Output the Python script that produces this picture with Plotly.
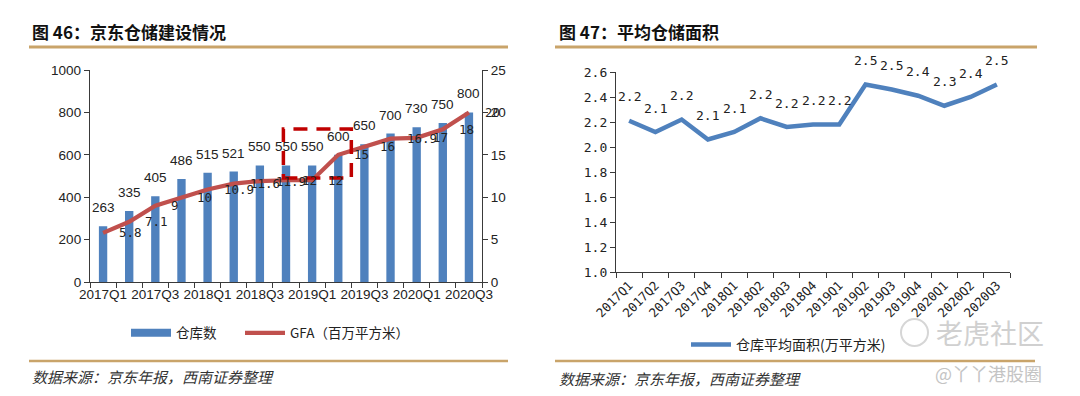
import plotly.graph_objects as go

# ---------------- data ----------------
categories = ["2017Q1", "2017Q2", "2017Q3", "2017Q4", "2018Q1", "2018Q2", "2018Q3",
              "2018Q4", "2019Q1", "2019Q2", "2019Q3", "2019Q4", "2020Q1", "2020Q2", "2020Q3"]
warehouses = [263, 335, 405, 486, 515, 521, 550, 550, 550, 600, 650, 700, 730, 750, 800]
gfa = [5.8, 7.1, 9, 10, 10.9, 11.6, 11.9, 12, 12, 15, 16, 16.9, 17, 18, 20]
avg_area = [2.21, 2.12, 2.22, 2.06, 2.12, 2.23, 2.16, 2.18, 2.18, 2.50, 2.46, 2.41, 2.33, 2.40, 2.50]

left_title = "图 46：京东仓储建设情况"
right_title = "图 47：平均仓储面积"
source_text = "数据来源：京东年报，西南证券整理"
name_bar = "仓库数"
name_gfa = "GFA（百万平方米）"
name_avg = "仓库平均面积(万平方米)"

idx = list(range(len(categories)))

# ---------------- styles ----------------
W, H = 1080, 396
BLUE = "#4F81BD"
RED = "#C0504D"
GOLD = "#C9A46A"
AX = "#3a3a3a"
TXT = "#222222"
CJK = "Noto Sans CJK SC"
SANS = "Liberation Sans"
MONO = "DejaVu Sans Mono"


def px_x(p):
    return p / W


def px_y(p):
    return 1 - p / H


fig = go.Figure()

# bars
fig.add_trace(go.Bar(x=idx, y=warehouses, marker_color=BLUE, width=0.32,
                     showlegend=False, xaxis="x", yaxis="y", hoverinfo="y"))
# legend stand-in for the bars (wide bar-coloured swatch)
fig.add_trace(go.Scatter(x=[None], y=[None], mode="lines", name=name_bar,
                         line=dict(color=BLUE, width=8), xaxis="x", yaxis="y",
                         legend="legend"))
# GFA line
fig.add_trace(go.Scatter(x=idx, y=gfa, mode="lines", name=name_gfa,
                         line=dict(color=RED, width=4.2), xaxis="x", yaxis="y2",
                         legend="legend3"))
# average area line
fig.add_trace(go.Scatter(x=idx, y=avg_area, mode="lines", name=name_avg,
                         line=dict(color=BLUE, width=4.5), xaxis="x2", yaxis="y3",
                         legend="legend2"))

annotations = []
# bar labels
for i, v in zip(idx, warehouses):
    annotations.append(dict(x=i, y=v, xref="x", yref="y", text=str(v), showarrow=False,
                            xanchor="center", yanchor="bottom", yshift=9,
                            font=dict(family=SANS, size=13.5, color=TXT)))
# GFA labels (to the right of the points)
for i, v in zip(idx, gfa):
    annotations.append(dict(x=i, y=v, xref="x", yref="y2", text=f"{v:g}", showarrow=False,
                            xanchor="left", yanchor="middle", xshift=14,
                            font=dict(family=MONO, size=12.5, color=TXT)))
# average area labels
for i, v in zip(idx, avg_area):
    annotations.append(dict(x=i, y=v, xref="x2", yref="y3", text=f"{v:.1f}", showarrow=False,
                            xanchor="center", yanchor="middle", yshift=24,
                            font=dict(family=MONO, size=13, color=TXT)))

# titles and sources
for txt, xp in [(left_title, 30), (right_title, 557)]:
    annotations.append(dict(x=px_x(xp), y=px_y(31), xref="paper", yref="paper", text=f"<b>{txt}</b>",
                            showarrow=False, xanchor="left", yanchor="middle",
                            font=dict(family=CJK, size=17, color="#111111")))
for xp, yp in [(30, 376), (557, 378)]:
    annotations.append(dict(x=px_x(xp), y=px_y(yp), xref="paper", yref="paper", text=source_text,
                            showarrow=False, xanchor="left", yanchor="middle",
                            font=dict(family=CJK, size=15, color="#333333", style="italic")))
# watermarks
annotations.append(dict(x=px_x(990), y=px_y(332), xref="paper", yref="paper", text="老虎社区",
                        showarrow=False, xanchor="center", yanchor="middle",
                        font=dict(family=CJK, size=27, color="#d0d0d0")))
annotations.append(dict(x=px_x(988), y=px_y(373), xref="paper", yref="paper", text="@丫丫港股圈",
                        showarrow=False, xanchor="center", yanchor="middle",
                        font=dict(family=CJK, size=18, color="#c4c4c4")))

shapes = [
    dict(type="line", xref="paper", yref="paper", x0=px_x(29), x1=px_x(508), y0=px_y(47), y1=px_y(47),
         line=dict(color=GOLD, width=3)),
    dict(type="line", xref="paper", yref="paper", x0=px_x(555), x1=px_x(1037), y0=px_y(47), y1=px_y(47),
         line=dict(color=GOLD, width=3)),
    dict(type="line", xref="paper", yref="paper", x0=px_x(29), x1=px_x(508), y0=px_y(361), y1=px_y(361),
         line=dict(color=GOLD, width=2.5)),
    dict(type="line", xref="paper", yref="paper", x0=px_x(555), x1=px_x(1035), y0=px_y(361), y1=px_y(361),
         line=dict(color=GOLD, width=2.5)),
    # watermark logo ring
    dict(type="circle", xref="paper", yref="paper", x0=px_x(901), x1=px_x(928), y0=px_y(346), y1=px_y(319),
         line=dict(color="#d6d6d6", width=2)),
    # highlight rectangle around 2018Q4-2019Q2
    dict(type="rect", xref="x", yref="y", x0=6.9, x1=9.5, y0=490, y1=722, layer="above",
         line=dict(color="#C00000", width=3.5, dash="14px,9px")),
]

axis_common = dict(showgrid=False, zeroline=False, showline=True, linecolor=AX, linewidth=1.3,
                   tickcolor=AX, fixedrange=True, automargin=False)

legend_common = dict(orientation="h", xanchor="left", yanchor="middle", itemwidth=40,
                     bgcolor="rgba(0,0,0,0)", borderwidth=0, itemclick=False, itemdoubleclick=False)

fig.update_layout(
    template="none",
    width=W, height=H, autosize=False,
    margin=dict(l=0, r=0, t=0, b=0, pad=0, autoexpand=False),
    paper_bgcolor="white", plot_bgcolor="white",
    bargap=0.68,
    xaxis=dict(domain=[px_x(90), px_x(482)], range=[-0.5, len(categories) - 0.5], anchor="y",
               tickvals=idx[::2], ticktext=categories[::2], ticks="",
               minor=dict(tick0=-0.5, dtick=1, ticks="outside", ticklen=5, tickcolor=AX),
               tickfont=dict(family=SANS, size=13.5, color=TXT), **axis_common),
    yaxis=dict(domain=[px_y(282), px_y(70)], range=[0, 1000], dtick=200, anchor="x",
               ticks="outside", ticklen=5,
               tickfont=dict(family=SANS, size=13.5, color=TXT), **axis_common),
    yaxis2=dict(overlaying="y", side="right", anchor="x", range=[0, 25], dtick=5,
                ticks="outside", ticklen=5,
                tickfont=dict(family=SANS, size=13.5, color=TXT), **axis_common),
    xaxis2=dict(domain=[px_x(616), px_x(1010)], range=[-0.5, len(categories) - 0.5], anchor="y3",
                tickvals=idx, ticktext=categories, ticks="", tickangle=-45,
                minor=dict(tick0=-0.5, dtick=1, ticks="outside", ticklen=5, tickcolor=AX),
                tickfont=dict(family=MONO, size=12.5, color=TXT), **axis_common),
    yaxis3=dict(domain=[px_y(272), px_y(72)], range=[1.0, 2.6], dtick=0.2, tickformat=".1f",
                anchor="x2", ticks="outside", ticklen=5,
                tickfont=dict(family=MONO, size=13, color=TXT), **axis_common),
    legend=dict(x=px_x(126), y=px_y(333), font=dict(family=CJK, size=13.5, color=TXT), **legend_common),
    legend3=dict(x=px_x(240), y=px_y(333), font=dict(family=CJK, size=13.5, color=TXT), **legend_common),
    legend2=dict(x=px_x(686), y=px_y(345), font=dict(family=CJK, size=14, color=TXT), **legend_common),
    annotations=annotations,
    shapes=shapes,
    showlegend=True,
)

fig.write_html("out.html", config={"displayModeBar": False},
               post_script="document.body.style.margin='0';document.body.style.overflow='hidden';")
